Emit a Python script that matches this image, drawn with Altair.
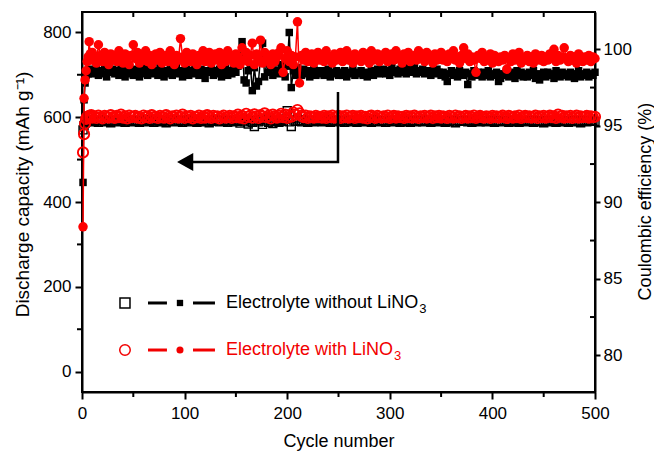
import altair as alt
import pandas as pd

# ---------------- data ----------------
cycles = list(range(1, 11)) + list(range(12, 501, 2))

# Coulombic efficiency (%) - electrolyte with LiNO3 (filled red circles)
red_ce = [
    88.4, 96.8, 98.0, 98.6, 99.2, 99.5, 100.5, 99.7, 99.3, 99.8,
    99.5, 99.1, 100.3, 99.6, 99.2, 99.8, 99.4, 99.0, 99.7, 99.3,
    99.6, 99.2, 99.9, 99.4, 99.1, 99.7, 99.5, 99.0, 99.6, 100.3,
    99.4, 99.8, 99.1, 99.5, 99.3, 99.9, 99.2, 99.6, 99.0, 99.5,
    99.7, 99.3, 99.8, 99.1, 99.4, 99.6, 99.2, 99.9, 99.5, 99.0,
    99.6, 99.3, 100.7, 99.5, 99.1, 99.8, 99.4, 99.2, 99.7, 99.5,
    99.0, 99.6, 99.3, 99.9, 99.2, 99.5, 99.8, 99.1, 99.4, 99.7,
    99.3, 99.8, 99.0, 99.5, 99.2, 99.9, 99.4, 99.6, 99.1, 99.7,
    99.5, 99.0, 100.1, 99.3, 99.8, 99.2, 99.6, 100.4, 99.0, 99.7,
    99.4, 100.6, 99.1, 99.8, 99.3, 99.6, 99.0, 99.7, 99.2, 99.5,
    99.8, 100.1, 98.5, 99.4, 99.9, 99.2, 99.6, 99.0, 99.5, 101.8,
    97.8, 99.6, 99.3, 99.8, 99.2, 99.5, 99.7, 99.1, 99.4, 99.8,
    99.3, 99.6, 99.2, 99.9, 99.4, 99.5, 99.1, 99.7, 99.3, 99.6,
    99.8, 99.2, 99.5, 99.9, 99.3, 99.6, 99.1, 99.7, 99.4, 99.5,
    99.2, 99.8, 99.4, 99.6, 99.1, 99.9, 99.3, 99.5, 99.7, 99.2,
    99.6, 99.4, 99.8, 99.2, 99.5, 99.7, 99.3, 99.9, 99.4, 99.6,
    99.1, 99.7, 99.4, 99.8, 99.2, 99.5, 99.6, 99.3, 99.9, 99.4,
    99.5, 99.2, 99.8, 99.4, 99.6, 99.1, 99.7, 99.3, 99.5, 99.8,
    99.3, 99.6, 99.2, 99.7, 99.4, 99.9, 99.3, 99.5, 99.1, 99.6,
    100.1, 99.4, 99.7, 99.2, 99.5, 99.3, 98.5, 99.6, 99.4, 99.8,
    99.2, 99.5, 99.3, 99.7, 99.1, 99.6, 99.4, 99.2, 99.5, 99.3,
    99.6, 98.7, 99.4, 99.2, 99.7, 99.3, 99.5, 99.8, 99.1, 99.4,
    99.3, 99.6, 99.2, 99.5, 99.1, 99.7, 99.4, 99.3, 99.6, 99.2,
    99.5, 99.3, 99.7, 99.4, 100.0, 99.2, 99.6, 99.3, 99.5, 100.1,
    99.4, 99.2, 99.6, 99.3, 99.5, 99.1, 99.7, 99.4, 99.2, 99.5,
    99.3, 99.6, 99.2, 99.5, 99.4,
]

# Coulombic efficiency (%) - electrolyte without LiNO3 (filled black squares)
black_ce = [
    91.3, 96.7, 97.8, 98.3, 98.5, 98.4, 98.7, 98.5, 98.6, 98.4,
    98.5, 98.8, 98.3, 98.6, 98.4, 98.9, 98.2, 98.6, 98.5, 98.7,
    98.4, 98.6, 98.3, 98.8, 98.5, 98.2, 98.7, 98.4, 98.6, 98.3,
    98.7, 98.5, 98.2, 98.6, 98.4, 98.8, 98.3, 98.5, 98.7, 98.4,
    98.6, 98.3, 98.8, 98.5, 98.2, 98.6, 98.4, 98.7, 98.3, 98.5,
    98.8, 98.4, 98.6, 98.2, 98.5, 98.7, 98.3, 98.6, 98.4, 98.8,
    98.5, 98.3, 98.7, 98.4, 98.1, 98.6, 98.5, 98.8, 98.3, 98.6,
    98.4, 98.7, 98.2, 98.5, 98.8, 98.3, 98.6, 98.4, 98.7, 98.5,
    98.9, 99.3, 100.5, 98.0, 97.8, 98.6, 99.0, 97.3, 98.8, 97.6,
    97.9, 99.5, 100.4, 98.2, 99.1, 98.5, 98.8, 98.3, 99.2, 98.6,
    98.4, 99.0, 98.7, 98.2, 98.9, 101.1, 97.5, 98.6, 98.3, 98.8,
    98.5, 98.3, 98.7, 98.4, 98.6, 98.2, 98.5, 98.7, 98.3, 98.6,
    98.4, 98.6, 98.3, 98.5, 98.7, 98.2, 98.5, 98.4, 98.6, 98.3,
    98.5, 98.3, 98.6, 98.2, 98.5, 98.4, 98.7, 98.3, 98.5, 98.4,
    98.6, 98.3, 98.5, 98.2, 98.4, 98.6, 98.3, 98.5, 98.7, 98.4,
    98.5, 98.7, 98.4, 98.6, 98.3, 98.8, 98.5, 98.6, 98.4, 98.7,
    98.5, 98.8, 98.4, 98.6, 98.7, 98.5, 98.8, 98.4, 98.6, 98.5,
    98.7, 98.4, 98.6, 98.5, 98.3, 98.6, 98.4, 98.7, 98.5, 98.3,
    98.5, 98.2, 97.9, 98.4, 98.6, 98.3, 98.5, 98.2, 98.6, 98.4,
    98.3, 98.5, 97.7, 98.4, 98.2, 98.6, 98.3, 98.5, 98.4, 98.2,
    98.5, 98.3, 98.6, 98.2, 98.4, 98.3, 98.5, 97.9, 98.1, 98.4,
    98.3, 98.6, 98.2, 98.5, 98.4, 98.1, 98.6, 98.3, 98.5, 98.2,
    98.4, 98.2, 98.5, 98.3, 98.6, 98.1, 98.4, 98.0, 98.3, 98.5,
    98.2, 98.5, 98.3, 98.4, 98.1, 98.6, 98.3, 98.2, 98.5, 98.3,
    98.4, 98.2, 98.5, 98.3, 98.1, 98.4, 98.6, 98.2, 98.4, 98.3,
    98.5, 98.2, 98.4, 98.3, 98.5,
]

# Discharge capacity (mAh/g) - with LiNO3 (open red circles)
red_cap = [
    517, 560, 585, 596, 601, 598, 603, 600, 605, 599,
    602, 598, 604, 600, 597, 603, 601, 599, 605, 600,
    598, 603, 600, 606, 599, 602, 597, 604, 600, 601,
    603, 599, 601, 597, 604, 600, 602, 598, 605, 600,
    601, 598, 603, 600, 599, 605, 601, 597, 602, 600,
    604, 599, 601, 606, 598, 602, 600, 603, 597, 601,
    600, 604, 598, 602, 599, 605, 601, 598, 603, 600,
    602, 597, 601, 604, 599, 600, 603, 598, 602, 600,
    606, 599, 603, 597, 608, 601, 604, 599, 607, 602,
    598, 605, 601, 609, 600, 604, 597, 606, 602, 599,
    603, 608, 600, 606, 598, 604, 601, 611, 606, 617,
    609, 603, 600, 604, 598, 602, 601, 599, 603, 600,
    601, 599, 603, 598, 602, 600, 604, 599, 601, 603,
    598, 602, 600, 604, 599, 601, 603, 598, 602, 600,
    603, 599, 601, 597, 602, 604, 600, 598, 603, 601,
    599, 602, 600, 604, 598, 601, 603, 599, 602, 600,
    601, 598, 603, 600, 602, 599, 604, 601, 598, 602,
    600, 603, 599, 601, 604, 598, 602, 600, 603, 599,
    602, 600, 598, 603, 601, 599, 604, 600, 602, 598,
    601, 603, 599, 602, 600, 604, 598, 601, 603, 600,
    599, 602, 601, 598, 603, 600, 602, 599, 601, 604,
    600, 598, 603, 601, 599, 602, 600, 604, 598, 601,
    603, 600, 602, 599, 601, 604, 598, 602, 600, 603,
    599, 601, 604, 600, 602, 598, 606, 601, 603, 599,
    602, 600, 603, 598, 601, 604, 599, 602, 600, 601,
    603, 599, 602, 600, 601,
]

# Discharge capacity (mAh/g) - without LiNO3 (open black squares)
black_cap = [
    570, 580, 586, 589, 592, 590, 593, 591, 589, 592,
    590, 593, 588, 591, 594, 589, 592, 590, 587, 593,
    591, 589, 594, 590, 592, 588, 591, 593, 589, 590,
    592, 590, 588, 593, 591, 589, 594, 590, 592, 588,
    591, 593, 589, 590, 592, 587, 591, 594, 590, 589,
    593, 590, 592, 588, 591, 594, 589, 591, 593, 590,
    588, 592, 590, 593, 589, 591, 587, 592, 590, 594,
    591, 589, 593, 590, 592, 588, 591, 594, 589, 592,
    590, 586, 593, 589, 595, 584, 591, 588, 578, 592,
    589, 594, 583, 591, 596, 588, 592, 585, 590, 593,
    588, 592, 590, 595, 615, 589, 578, 593, 590, 598,
    592, 589, 591, 594, 588, 590, 593, 589, 591, 590,
    592, 589, 591, 594, 590, 588, 593, 591, 589, 592,
    590, 593, 588, 591, 592, 589, 594, 590, 588, 591,
    593, 590, 589, 592, 591, 588, 590, 594, 589, 591,
    590, 592, 588, 591, 593, 589, 591, 590, 594, 588,
    591, 589, 593, 590, 588, 592, 591, 589, 593, 590,
    589, 592, 590, 594, 588, 591, 590, 593, 589, 591,
    592, 588, 591, 590, 593, 589, 587, 592, 590, 591,
    590, 593, 589, 591, 588, 592, 590, 594, 589, 591,
    591, 589, 592, 590, 593, 588, 591, 590, 589, 592,
    590, 592, 588, 591, 589, 593, 590, 588, 592, 591,
    589, 591, 593, 590, 588, 592, 589, 591, 590, 587,
    592, 590, 589, 593, 591, 588, 590, 592, 589, 591,
    590, 588, 592, 591, 589, 593, 590, 587, 591, 592,
    589, 591, 590, 592, 590,
]

# axis ticks
x_ticks = [0, 100, 200, 300, 400, 500]
x_minor = [50, 150, 250, 350, 450]
x_top = [50, 100, 150, 200, 250, 300, 350, 400, 450]
cap_ticks = [0, 200, 400, 600, 800]
cap_minor = [100, 300, 500, 700]
ce_ticks = [80, 85, 90, 95, 100]
ce_minor = [82.5, 87.5, 92.5, 97.5]

# annotation arrow (cycle, capacity units)
arrow_x = [249.5, 249.5, 105.3]
arrow_y = [659.4, 494.3, 494.3]
arrow_head_x = [101.4]
arrow_head_y = [494.3]

# manual legend (cycle, capacity units)
legend_labels = ["Electrolyte without LiNO", "Electrolyte with LiNO"]
legend_y = [161.9, 51.0]
legend_colors = ["#000000", "#f20000"]
legend_sym_x = [41.9, 41.9]
legend_dot_x = [95.5, 95.5]
legend_dash1 = [64.3, 82.8]
legend_dash2 = [108.2, 129.6]
legend_text_x = [140.4, 140.4]
legend_sub_x = [328.6, 304.2]

RED = "#ff0000"
FONT = "Liberation Sans"

# ---------------- scales / axes ----------------
x_scale = alt.Scale(domain=[0, 500], nice=False, zero=False)
cap_scale = alt.Scale(domain=[-48, 848], nice=False, zero=False)
ce_scale = alt.Scale(domain=[77.6, 102.44], nice=False, zero=False)

x_axis = alt.Axis(values=x_ticks, title="Cycle number", tickSize=7, labelPadding=6,
                  labelFlush=False, titleY=49, titleBaseline="middle", titleAlign="center")
left_axis = alt.Axis(orient="left", values=cap_ticks, title="Discharge capacity (mAh g\u207b\u00b9)",
                     tickSize=7, labelPadding=4, labelFlush=False, titleX=-60, titleY=182,
                     titleAngle=270, titleAlign="center", titleBaseline="middle",
                     titleFontSize=19)
right_axis = alt.Axis(orient="right", values=ce_ticks, title="Coulombic efficiency (%)",
                      tickSize=5, labelPadding=3, labelFlush=False, titleX=50, titleY=189,
                      titleAngle=270, titleAlign="center", titleBaseline="middle")


def XQ(field):
    return alt.X(field, type="quantitative", scale=x_scale, axis=x_axis)


def YC(field):
    return alt.Y(field, type="quantitative", scale=cap_scale, axis=left_axis)


def YE(field):
    return alt.Y(field, type="quantitative", scale=ce_scale, axis=right_axis)


df = pd.DataFrame({"cycle": cycles, "red_ce": red_ce, "black_ce": black_ce,
                   "red_cap": red_cap, "black_cap": black_cap})

# capacity (left axis)
black_cap_pts = alt.Chart(df).mark_point(shape="square", filled=False, size=64, color="black",
                                         strokeWidth=1.4, opacity=1).encode(
    x=XQ("cycle"), y=YC("black_cap"))
red_cap_pts = alt.Chart(df).mark_point(shape="circle", filled=False, size=105, color=RED,
                                       strokeWidth=1.9, opacity=1).encode(
    x=XQ("cycle"), y=YC("red_cap"))

left_minor = alt.Chart(pd.DataFrame({"v": cap_minor})).mark_rule(color="black", strokeWidth=2).encode(
    y=YC("v"), x=alt.value(-5), x2=alt.value(0))
bottom_minor = alt.Chart(pd.DataFrame({"v": x_minor})).mark_rule(color="black", strokeWidth=2).encode(
    x=XQ("v"), y=alt.value(380), y2=alt.value(385))
top_ticks = alt.Chart(pd.DataFrame({"v": x_top})).mark_rule(color="black", strokeWidth=2).encode(
    x=XQ("v"), y=alt.value(0), y2=alt.value(5))

arrow = alt.Chart(pd.DataFrame({"x": arrow_x, "y": arrow_y, "o": [0, 1, 2]})).mark_line(
    color="black", strokeWidth=2.5, strokeJoin="miter").encode(
    x=XQ("x"), y=YC("y"), order="o:Q")
arrow_head = alt.Chart(pd.DataFrame({"x": arrow_head_x, "y": arrow_head_y})).mark_point(
    shape="M-1,0L0.8,-1L0.8,1Z", filled=True, size=324, color="black", opacity=1).encode(
    x=XQ("x"), y=YC("y"))

leg = pd.DataFrame({"y": legend_y, "c": legend_colors, "label": legend_labels,
                    "sx": legend_sub_x, "symx": legend_sym_x, "dotx": legend_dot_x,
                    "tx": legend_text_x,
                    "d1a": [legend_dash1[0]] * 2, "d1b": [legend_dash1[1]] * 2,
                    "d2a": [legend_dash2[0]] * 2, "d2b": [legend_dash2[1]] * 2})
col = alt.Color("c:N", scale=None)

leg_sq = alt.Chart(leg.iloc[[0]]).mark_point(shape="square", filled=False, size=100,
                                             strokeWidth=1.5, opacity=1).encode(
    x=XQ("symx"), y=YC("y"), color=col)
leg_ci = alt.Chart(leg.iloc[[1]]).mark_point(shape="circle", filled=False, size=110,
                                             strokeWidth=1.5, opacity=1).encode(
    x=XQ("symx"), y=YC("y"), color=col)
leg_dsq = alt.Chart(leg.iloc[[0]]).mark_point(shape="square", filled=True, size=40, opacity=1).encode(
    x=XQ("dotx"), y=YC("y"), color=col)
leg_dci = alt.Chart(leg.iloc[[1]]).mark_point(shape="circle", filled=True, size=50, opacity=1).encode(
    x=XQ("dotx"), y=YC("y"), color=col)
leg_d1 = alt.Chart(leg).mark_rule(strokeWidth=3).encode(
    x=XQ("d1a"), x2="d1b:Q", y=YC("y"), color=col)
leg_d2 = alt.Chart(leg).mark_rule(strokeWidth=3).encode(
    x=XQ("d2a"), x2="d2b:Q", y=YC("y"), color=col)
leg_txt = alt.Chart(leg).mark_text(align="left", baseline="middle", fontSize=18, font=FONT).encode(
    x=XQ("tx"), y=YC("y"), text="label:N", color=col)
leg_sub = alt.Chart(leg).mark_text(align="left", baseline="middle", fontSize=13, font=FONT, dy=6).encode(
    x=XQ("sx"), y=YC("y"), text=alt.value("3"), color=col)

cap_group = alt.layer(black_cap_pts, red_cap_pts, left_minor, bottom_minor, top_ticks,
                      arrow, arrow_head, leg_sq, leg_ci, leg_d1, leg_d2, leg_dsq, leg_dci,
                      leg_txt, leg_sub)

# coulombic efficiency (right axis)
black_ce_line = alt.Chart(df).mark_line(color="black", strokeWidth=1.5).encode(
    x=XQ("cycle"), y=YE("black_ce"))
black_ce_pts = alt.Chart(df).mark_point(shape="square", filled=True, size=56, color="black",
                                        opacity=1).encode(
    x=XQ("cycle"), y=YE("black_ce"))
red_ce_line = alt.Chart(df).mark_line(color=RED, strokeWidth=1.5).encode(
    x=XQ("cycle"), y=YE("red_ce"))
red_ce_pts = alt.Chart(df).mark_point(shape="circle", filled=True, size=90, color=RED,
                                      opacity=1).encode(
    x=XQ("cycle"), y=YE("red_ce"))
right_minor = alt.Chart(pd.DataFrame({"v": ce_minor})).mark_rule(color="black", strokeWidth=2).encode(
    y=YE("v"), x=alt.value(508), x2=alt.value(513))

ce_group = alt.layer(black_ce_line, black_ce_pts, red_ce_line, red_ce_pts, right_minor)

chart = alt.layer(cap_group, ce_group).resolve_scale(y="independent").properties(
    width=513, height=380, autosize=alt.AutoSizeParams(type="none"),
    padding={"left": 82, "top": 12, "right": 59, "bottom": 59},
).configure_view(stroke="black", strokeWidth=2).configure_axis(
    labelFont=FONT, titleFont=FONT, labelFontSize=17, titleFontSize=18,
    titleFontWeight="normal", labelColor="black", titleColor="black",
    domainColor="black", tickColor="black", tickWidth=2, domainWidth=2, grid=False,
)

chart.save("out.html", embed_options={"renderer": "svg", "actions": False})
